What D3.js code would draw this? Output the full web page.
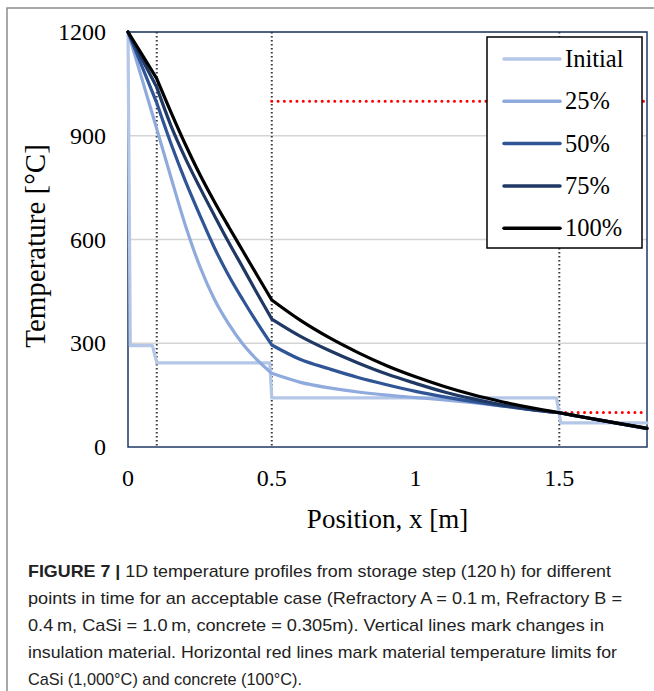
<!DOCTYPE html>
<html>
<head>
<meta charset="utf-8">
<script src="https://cdn.jsdelivr.net/npm/d3@7"></script>
<style>
  body { margin: 0; background: #fff; }
  svg { display: block; }
</style>
</head>
<body>
<svg id="chart" width="654" height="691"></svg>
<script>
// position grid (m) shared by the transient profiles
var xs = [0, 0.05, 0.1, 0.15, 0.2, 0.25, 0.3, 0.35, 0.4, 0.45, 0.5,
  0.6, 0.7, 0.8, 0.9, 1.0, 1.1, 1.2, 1.3, 1.4, 1.5, 1.6, 1.7, 1.805];

var t25 = [1200, 1060, 920, 778, 640, 522, 428, 356, 297, 251, 213,
  187, 171, 159, 150, 143, 136, 128, 119, 109, 99, 84, 69, 53];
var t50 = [1200, 1098, 995, 876, 768, 670, 577, 496, 425, 358, 295,
  253, 226, 201, 180, 161, 145, 131, 119, 108, 99, 84, 69, 53];
var t75 = [1200, 1120, 1040, 928, 834, 750, 670, 592, 518, 443, 370,
  320, 279, 243, 211, 184, 159, 139, 122, 109, 99, 84, 69, 54];
var t100 = [1200, 1133, 1065, 967, 874, 788, 710, 637, 566, 495, 425,
  366, 316, 273, 235, 203, 175, 151, 131, 114, 99, 84, 69, 54];

// initial (stepped) profile
var initX = [0, 0.008, 0.085, 0.1, 0.493, 0.5, 1.49, 1.505, 1.805];
var initT = [1200, 293, 293, 243, 243, 142, 142, 70, 70];

var seriesNames = ["Initial", "25%", "50%", "75%", "100%"];
var seriesColors = ["#b4c7e7", "#8faadc", "#2f5597", "#1f3864", "#000000"];

var materialBounds = [0.1, 0.5, 1.5];
var limitLines = [{ x0: 0.5, x1: 1.805, t: 1000 }, { x0: 1.5, x1: 1.805, t: 100 }];

var yTicks = [0, 300, 600, 900, 1200];
var xTicks = [0, 0.5, 1, 1.5];

var captionLines = [
  { bold: "FIGURE 7 | ", text: "1D temperature profiles from storage step (120\u2009h) for different", w: 583 },
  { bold: "", text: "points in time for an acceptable case (Refractory A = 0.1\u2009m, Refractory B =", w: 594 },
  { bold: "", text: "0.4\u2009m, CaSi = 1.0\u2009m, concrete = 0.305m). Vertical lines mark changes in", w: 576 },
  { bold: "", text: "insulation material. Horizontal red lines mark material temperature limits for", w: 589 },
  { bold: "", text: "CaSi (1,000\u00b0C) and concrete (100\u00b0C).", w: 274 }
];

var svg = d3.select("#chart");

// figure frame (top + left rule)
svg.append("path")
  .attr("d", "M7,691 L7,8 L654,8")
  .attr("fill", "none")
  .attr("stroke", "#8c8c8c")
  .attr("stroke-width", 1.5);

var plotL = 128, plotR = 647, plotT = 32, plotB = 447;

var x = d3.scaleLinear().domain([0, 1.805]).range([plotL, plotR]);
var y = d3.scaleLinear().domain([0, 1200]).range([plotB, plotT]);

var serif = "'Liberation Serif', 'Times New Roman', serif";

// gridlines
svg.append("g")
  .selectAll("line")
  .data(yTicks.filter(function(d) { return d > 0; }))
  .enter()
  .append("line")
  .attr("x1", plotL).attr("x2", plotR)
  .attr("y1", function(d) { return y(d); })
  .attr("y2", function(d) { return y(d); })
  .attr("stroke", "#d4d4d4")
  .attr("stroke-width", 1.5);

// material boundaries
svg.append("g")
  .selectAll("line")
  .data(materialBounds)
  .enter()
  .append("line")
  .attr("x1", function(d) { return x(d); })
  .attr("x2", function(d) { return x(d); })
  .attr("y1", plotT).attr("y2", plotB)
  .attr("stroke", "#3a3a3a")
  .attr("stroke-width", 2)
  .attr("stroke-dasharray", "1.6,2.4");

// plot frame
svg.append("rect")
  .attr("x", plotL).attr("y", plotT)
  .attr("width", plotR - plotL).attr("height", plotB - plotT)
  .attr("fill", "none")
  .attr("stroke", "#1f3864")
  .attr("stroke-width", 1.5);

// temperature limits
svg.append("g")
  .selectAll("line")
  .data(limitLines)
  .enter()
  .append("line")
  .attr("x1", function(d) { return x(d.x0); })
  .attr("x2", function(d) { return x(d.x1); })
  .attr("y1", function(d) { return y(d.t); })
  .attr("y2", function(d) { return y(d.t); })
  .attr("stroke", "#ff0000")
  .attr("stroke-width", 3)
  .attr("stroke-linecap", "round")
  .attr("stroke-dasharray", "0,6.3");

var straight = d3.line()
  .x(function(d) { return x(d[0]); })
  .y(function(d) { return y(d[1]); });

var smooth = d3.line()
  .x(function(d) { return x(d[0]); })
  .y(function(d) { return y(d[1]); })
  .curve(d3.curveMonotoneX);

// smooth within each material layer, keep the kink at each boundary
var edges = [0].concat(materialBounds, [1.805]);
function layered(pts) {
  var d = "";
  for (var k = 0; k < edges.length - 1; k++) {
    var seg = pts.filter(function(p) {
      return p[0] >= edges[k] - 1e-9 && p[0] <= edges[k + 1] + 1e-9;
    });
    var s = smooth(seg);
    d += k === 0 ? s : "L" + s.slice(1);
  }
  return d;
}

var profiles = [t25, t50, t75, t100].map(function(t) { return d3.zip(xs, t); });

var g = svg.append("g").attr("fill", "none").attr("stroke-width", 3.2)
  .attr("stroke-linejoin", "round").attr("stroke-linecap", "round");

g.append("path")
  .attr("d", straight(d3.zip(initX, initT)))
  .attr("stroke", seriesColors[0]);

g.selectAll(".profile")
  .data(profiles)
  .enter()
  .append("path")
  .attr("class", "profile")
  .attr("d", layered)
  .attr("stroke", function(d, i) { return seriesColors[i + 1]; });

// y tick labels
svg.append("g")
  .selectAll("text")
  .data(yTicks)
  .enter()
  .append("text")
  .attr("x", 106)
  .attr("y", function(d) { return y(d) + 8; })
  .attr("text-anchor", "end")
  .attr("font-family", serif)
  .attr("font-size", 24)
  .text(function(d) { return d; });

// x tick labels
svg.append("g")
  .selectAll("text")
  .data(xTicks)
  .enter()
  .append("text")
  .attr("x", function(d) { return x(d); })
  .attr("y", 486)
  .attr("text-anchor", "middle")
  .attr("font-family", serif)
  .attr("font-size", 24)
  .text(function(d) { return d; });

// axis titles
svg.append("text")
  .attr("x", (plotL + plotR) / 2)
  .attr("y", 528)
  .attr("text-anchor", "middle")
  .attr("font-family", serif)
  .attr("font-size", 27)
  .text("Position, x [m]");

svg.append("text")
  .attr("transform", "translate(45," + 246 + ") rotate(-90)")
  .attr("text-anchor", "middle")
  .attr("font-family", serif)
  .attr("font-size", 29)
  .text("Temperature [\u00b0C]");

// legend
var legend = svg.append("g").attr("transform", "translate(487,37)");
legend.append("rect")
  .attr("width", 155).attr("height", 211)
  .attr("fill", "#fff")
  .attr("stroke", "#000")
  .attr("stroke-width", 1.5);

var item = legend.selectAll("g")
  .data(seriesNames)
  .enter()
  .append("g")
  .attr("transform", function(d, i) { return "translate(0," + (22 + i * 42.3) + ")"; });

item.append("line")
  .attr("x1", 17).attr("x2", 73)
  .attr("stroke", function(d, i) { return seriesColors[i]; })
  .attr("stroke-width", 3.5)
  .attr("stroke-linecap", "round");

item.append("text")
  .attr("x", 78)
  .attr("y", 8)
  .attr("font-family", serif)
  .attr("font-size", 24.5)
  .text(function(d) { return d; });

// caption
var cap = svg.append("g")
  .selectAll("text")
  .data(captionLines)
  .enter()
  .append("text")
  .attr("x", 28)
  .attr("y", function(d, i) { return 577 + i * 27; })
  .attr("font-family", "'Liberation Sans', Arial, sans-serif")
  .attr("font-size", 17)
  .attr("fill", "#222")
  .attr("textLength", function(d) { return d.w; })
  .attr("lengthAdjust", "spacingAndGlyphs");

cap.append("tspan")
  .attr("font-weight", "bold")
  .text(function(d) { return d.bold; });
cap.append("tspan")
  .text(function(d) { return d.text; });
</script>
</body>
</html>
